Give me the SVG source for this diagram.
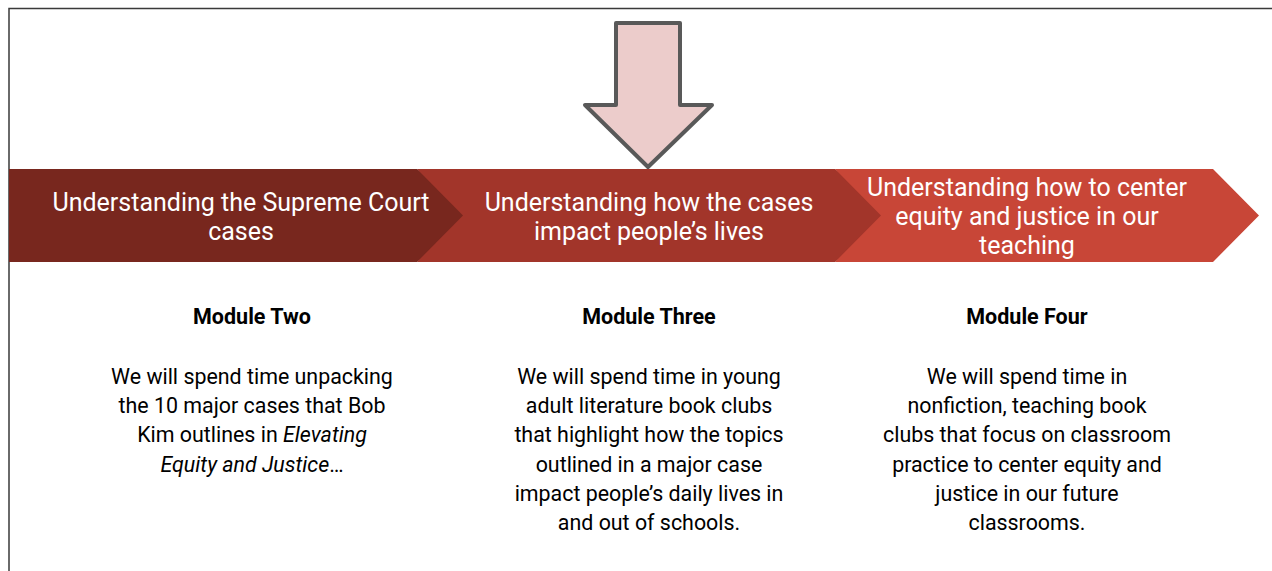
<svg xmlns="http://www.w3.org/2000/svg" width="1272" height="571" viewBox="0 0 1272 571">
  <style>
    .title { font-family: Roboto, "Liberation Sans", sans-serif; font-size: 25px; fill: #ffffff; text-anchor: middle; }
    .head { font-family: Roboto, "Liberation Sans", sans-serif; font-size: 21.5px; font-weight: bold; fill: #000000; text-anchor: middle; }
    .body { font-family: Roboto, "Liberation Sans", sans-serif; font-size: 21.4px; fill: #000000; text-anchor: middle; }
    .frame { fill: none; stroke: #3a3a3a; stroke-width: 1.5; }
  </style>
  <rect width="1272" height="571" fill="#ffffff"/>
  <!-- frame: top and left edges -->
  <path class="frame" d="M9,571 V8.5 H1272"/>

  <!-- chevron band, drawn right to left so each tip overlaps the next step -->
  <g id="step-four">
    <polygon points="835,169 1213,169 1259,215.5 1213,262 835,262 870,215.5" fill="#c84637"/>
    <text class="title" x="1027" y="196">Understanding how to center</text>
    <text class="title" x="1027" y="225">equity and justice in our</text>
    <text class="title" x="1027" y="254">teaching</text>
  </g>
  <g id="step-three">
    <polygon points="417,169 835,169 881,215.5 835,262 417,262 452,215.5" fill="#a2352a"/>
    <text class="title" x="649" y="211">Understanding how the cases</text>
    <text class="title" x="649" y="240">impact people’s lives</text>
  </g>
  <g id="step-two">
    <polygon points="9,169 417,169 463,215.5 417,262 9,262" fill="#78271e"/>
    <text class="title" x="241" y="211">Understanding the Supreme Court</text>
    <text class="title" x="241" y="240">cases</text>
  </g>

  <!-- down arrow marking the current step -->
  <g id="current-marker">
    <polygon points="616,23 680,23 680,105 712,105 648,167 585,105 616,105" fill="#eccccb" stroke="#595959" stroke-width="4" stroke-linejoin="round"/>
  </g>

  <!-- module descriptions -->
  <g id="module-two">
    <text class="head" x="252" y="324">Module Two</text>
    <text class="body" x="252" y="384">We will spend time unpacking</text>
    <text class="body" x="252" y="413">the 10 major cases that Bob</text>
    <text class="body" x="252" y="442">Kim outlines in <tspan font-style="italic">Elevating</tspan></text>
    <text class="body" x="252" y="472"><tspan font-style="italic">Equity and Justice</tspan>…</text>
  </g>
  <g id="module-three">
    <text class="head" x="649" y="324">Module Three</text>
    <text class="body" x="649" y="384">We will spend time in young</text>
    <text class="body" x="649" y="413">adult literature book clubs</text>
    <text class="body" x="649" y="442">that highlight how the topics</text>
    <text class="body" x="649" y="472">outlined in a major case</text>
    <text class="body" x="649" y="501">impact people’s daily lives in</text>
    <text class="body" x="649" y="530">and out of schools.</text>
  </g>
  <g id="module-four">
    <text class="head" x="1027" y="324">Module Four</text>
    <text class="body" x="1027" y="384">We will spend time in</text>
    <text class="body" x="1027" y="413">nonfiction, teaching book</text>
    <text class="body" x="1027" y="442">clubs that focus on classroom</text>
    <text class="body" x="1027" y="472">practice to center equity and</text>
    <text class="body" x="1027" y="501">justice in our future</text>
    <text class="body" x="1027" y="530">classrooms.</text>
  </g>
</svg>
